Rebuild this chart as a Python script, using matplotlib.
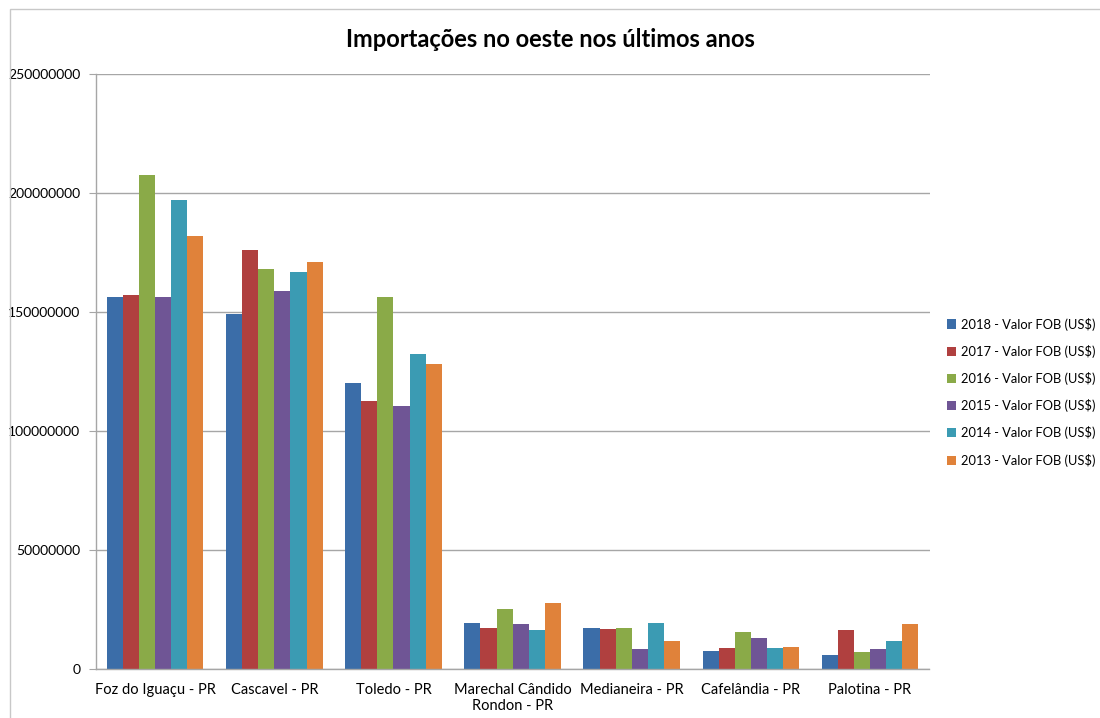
import matplotlib
matplotlib.use("Agg")
import matplotlib.pyplot as plt
import numpy as np
from matplotlib.patches import Rectangle

plt.rcParams['font.family'] = ['Lato', 'DejaVu Sans']

categories = ["Foz do Iguaçu - PR", "Cascavel - PR", "Toledo - PR",
              "Marechal Cândido\nRondon - PR", "Medianeira - PR",
              "Cafelândia - PR", "Palotina - PR"]
series_names = ["2018 - Valor FOB (US$)", "2017 - Valor FOB (US$)",
                "2016 - Valor FOB (US$)", "2015 - Valor FOB (US$)",
                "2014 - Valor FOB (US$)", "2013 - Valor FOB (US$)"]
v2018 = [156.3e6, 149e6, 120e6, 19.5e6, 17.4e6, 7.8e6, 6.0e6]
v2017 = [157.0e6, 176e6, 112.6e6, 17.1e6, 16.8e6, 9.0e6, 16.5e6]
v2016 = [207.5e6, 168e6, 156.3e6, 25.2e6, 17.4e6, 15.5e6, 7.3e6]
v2015 = [156.2e6, 159e6, 110.5e6, 18.8e6, 8.3e6, 13.3e6, 8.5e6]
v2014 = [197.0e6, 167e6, 132.5e6, 16.4e6, 19.6e6, 8.7e6, 12.0e6]
v2013 = [182.0e6, 171e6, 128.0e6, 28.0e6, 11.9e6, 9.4e6, 18.9e6]
series = [v2018, v2017, v2016, v2015, v2014, v2013]
yticks = [0, 50000000, 100000000, 150000000, 200000000, 250000000]

colors = ['#3B6DA8', '#B0403F', '#8AAA48', '#6F5595', '#3B9BB3', '#E0823A']

fig = plt.figure(figsize=(11, 7.18), dpi=100)
fig.patches.append(Rectangle((0.009, -0.01), 1.0, 0.997, transform=fig.transFigure,
                             fill=False, edgecolor='#c8c8c8', linewidth=1.0))
ax = fig.add_axes([0.087, 0.068, 0.758, 0.829])

x = np.arange(len(categories))
n = len(series)
w = 0.81 / n
for i, (vals, c, name) in enumerate(zip(series, colors, series_names)):
    ax.bar(x - 0.405 + w * (i + 0.5), vals, width=w, color=c, label=name, linewidth=0)

ax.set_xlim(-0.5, len(categories) - 0.5)
ax.set_ylim(0, 250000000)
ax.set_yticks(yticks)
ax.set_yticklabels([str(t) for t in yticks], fontsize=10)
ax.yaxis.grid(True, color='#a6a6a6', linewidth=1.0)
ax.set_axisbelow(True)
ax.set_xticks(x)
ax.set_xticklabels(categories, fontsize=10.5)
ax.tick_params(axis='x', length=0, pad=10)
ax.tick_params(axis='y', length=5, color='#a6a6a6', pad=6)
for s in ['top', 'right']:
    ax.spines[s].set_visible(False)
for s in ['left', 'bottom']:
    ax.spines[s].set_color('#a6a6a6')
    ax.spines[s].set_linewidth(1.0)

fig.text(0.5, 0.945, "Importações no oeste nos últimos anos", ha='center', va='center',
         fontsize=17, fontweight='bold')

leg = fig.legend(loc='center left', bbox_to_anchor=(0.861, 0.454), frameon=False,
                 fontsize=9.3, handlelength=0.7, handleheight=0.7, labelspacing=1.1,
                 handletextpad=0.35, borderaxespad=0, borderpad=0)

fig.savefig("out.png", dpi=100)
